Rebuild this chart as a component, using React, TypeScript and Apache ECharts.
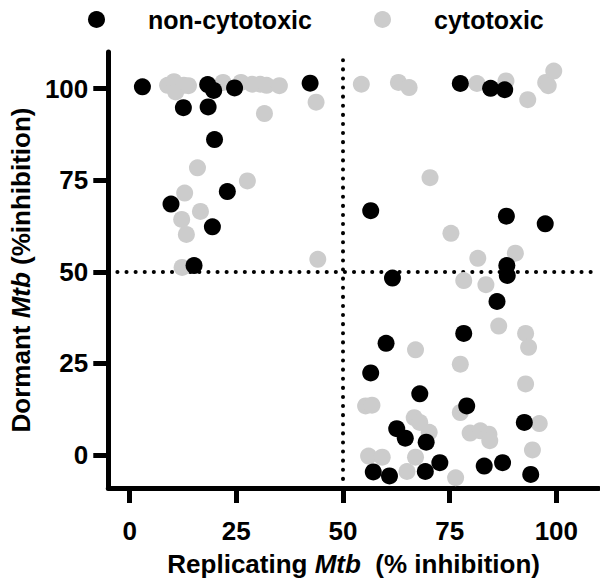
import React, { useEffect, useRef } from "react";
import * as echarts from "echarts";

const seriesNames = ["non-cytotoxic", "cytotoxic"];
const tickValues = [0, 25, 50, 75, 100];
const thresholdX = 50;
const thresholdY = 50;

// [replicating % inhibition, dormant % inhibition]
const nonCytotoxic: number[][] = [
  [3, 100.5], [18.3, 101.1], [19.7, 99.5], [24.6, 100.2], [42.3, 101.5],
  [12.6, 94.8], [18.4, 95.0], [19.9, 86.1], [22.9, 71.9], [9.7, 68.5],
  [19.4, 62.3], [15.1, 51.7],
  [77.5, 101.4], [84.6, 100.1], [87.9, 99.7],
  [56.5, 66.7], [88.3, 65.2], [97.4, 63.1], [88.4, 51.7], [88.5, 49.0],
  [61.6, 48.3], [86.1, 41.9], [78.3, 33.2], [60.1, 30.5], [56.5, 22.4],
  [68.0, 16.7], [79.0, 13.4], [62.6, 7.2], [64.6, 4.6], [69.5, 3.5],
  [92.5, 8.9], [72.7, -2.1], [83.1, -3.0], [87.4, -2.1], [57.1, -4.6],
  [60.9, -5.7], [69.3, -4.5], [94.0, -5.3]
];

const cytotoxic: number[][] = [
  [8.9, 100.9], [10.4, 101.9], [10.8, 99.1], [12.7, 100.9], [13.8, 100.8],
  [21.9, 101.7], [26.1, 101.7], [28.7, 101.2], [30.6, 101.2], [32.1, 100.9],
  [35.1, 100.8], [43.7, 96.3], [31.6, 93.2], [15.9, 78.4], [27.6, 74.8],
  [12.9, 71.5], [16.6, 66.5], [12.2, 64.3], [13.3, 60.2], [44.1, 53.4],
  [12.3, 51.2],
  [54.3, 101.2], [63.0, 101.7], [65.5, 100.3], [81.4, 101.4], [88.2, 102.1],
  [93.3, 97.0], [97.5, 101.7], [98.1, 100.8], [99.4, 104.8],
  [70.4, 75.7], [75.3, 60.5], [81.6, 53.7], [90.4, 55.1], [78.3, 47.6],
  [83.5, 46.5], [86.5, 35.2], [92.8, 33.2], [93.5, 29.4], [67.0, 28.7],
  [77.5, 24.8], [92.8, 19.4], [55.3, 13.4], [56.8, 13.6], [77.5, 11.6],
  [66.7, 10.2], [68.0, 8.9], [70.2, 6.2], [96.0, 8.6], [79.8, 6.0],
  [82.2, 6.6], [84.2, 5.7], [84.4, 3.9], [94.4, 1.4], [56.0, -0.3],
  [59.2, -0.6], [67.0, -0.6], [65.0, -4.5], [76.4, -6.2]
];

const FONT = "'Liberation Sans', Arial, Helvetica, sans-serif";
const BLACK = "#000000";
const GRAY = "#cccccc";

export default function App() {
  const ref = useRef<HTMLDivElement>(null);
  useEffect(() => {
    if (!ref.current) return;
    const chart = echarts.init(ref.current, null, { renderer: "svg" });
    const legendText = {
      color: BLACK,
      fontFamily: FONT,
      fontWeight: "bold" as const,
      fontSize: 25,
      padding: [0, 0, 0, 38],
    };
    const richTitle = {
      a: { fontFamily: FONT, fontWeight: "bold", fontSize: 26, color: BLACK },
      b: { fontFamily: FONT, fontWeight: "bold", fontStyle: "italic", fontSize: 26, color: BLACK },
    };
    chart.setOption({
      animation: false,
      backgroundColor: "#ffffff",
      legend: [
        {
          data: [seriesNames[0]],
          left: 83,
          top: 2,
          icon: "circle",
          itemWidth: 17,
          itemHeight: 17,
          textStyle: legendText,
        },
        {
          data: [seriesNames[1]],
          left: 369,
          top: 2,
          icon: "circle",
          itemWidth: 17,
          itemHeight: 17,
          textStyle: legendText,
        },
      ],
      grid: { left: 86, right: 1, top: 52, bottom: 89, containLabel: false },
      xAxis: {
        type: "value",
        min: -5,
        max: 110,
        name: "{a|Replicating }{b|Mtb}{a|  (% inhibition)}",
        nameLocation: "middle",
        nameGap: 63,
        nameTextStyle: { rich: richTitle },
        axisLine: { onZero: false, lineStyle: { color: BLACK, width: 5 } },
        axisTick: {
          show: true,
          inside: false,
          length: 15,
          customValues: tickValues,
          lineStyle: { color: BLACK, width: 5 },
        },
        axisLabel: {
          customValues: tickValues,
          margin: 30,
          color: BLACK,
          fontFamily: FONT,
          fontWeight: "bold",
          fontSize: 26,
        },
        splitLine: { show: false },
      },
      yAxis: {
        type: "value",
        min: -9,
        max: 110,
        name: "{a|Dormant }{b|Mtb}{a| (%inhibition)}",
        nameLocation: "middle",
        nameGap: 60,
        nameTextStyle: { rich: richTitle },
        axisLine: { show: true, onZero: false, lineStyle: { color: BLACK, width: 5 } },
        axisTick: {
          show: true,
          inside: false,
          length: 15,
          customValues: tickValues,
          lineStyle: { color: BLACK, width: 5 },
        },
        axisLabel: {
          customValues: tickValues,
          margin: 20,
          color: BLACK,
          fontFamily: FONT,
          fontWeight: "bold",
          fontSize: 26,
        },
        splitLine: { show: false },
      },
      series: [
        {
          name: seriesNames[1],
          type: "scatter",
          data: cytotoxic,
          symbol: "circle",
          symbolSize: 17,
          itemStyle: { color: GRAY, opacity: 1 },
          z: 2,
          markLine: {
            silent: true,
            symbol: ["none", "none"],
            label: { show: false },
            lineStyle: { color: BLACK, width: 4, type: [0.1, 9], cap: "round" },
            data: [{ xAxis: thresholdX }, { yAxis: thresholdY }],
            z: 1,
          },
        },
        {
          name: seriesNames[0],
          type: "scatter",
          data: nonCytotoxic,
          symbol: "circle",
          symbolSize: 17,
          itemStyle: { color: BLACK, opacity: 1 },
          z: 3,
        },
      ],
    });
    return () => chart.dispose();
  }, []);
  return (
    <div
      ref={ref}
      style={{ position: "fixed", left: 0, top: 0, width: 600, height: 582 }}
    />
  );
}
